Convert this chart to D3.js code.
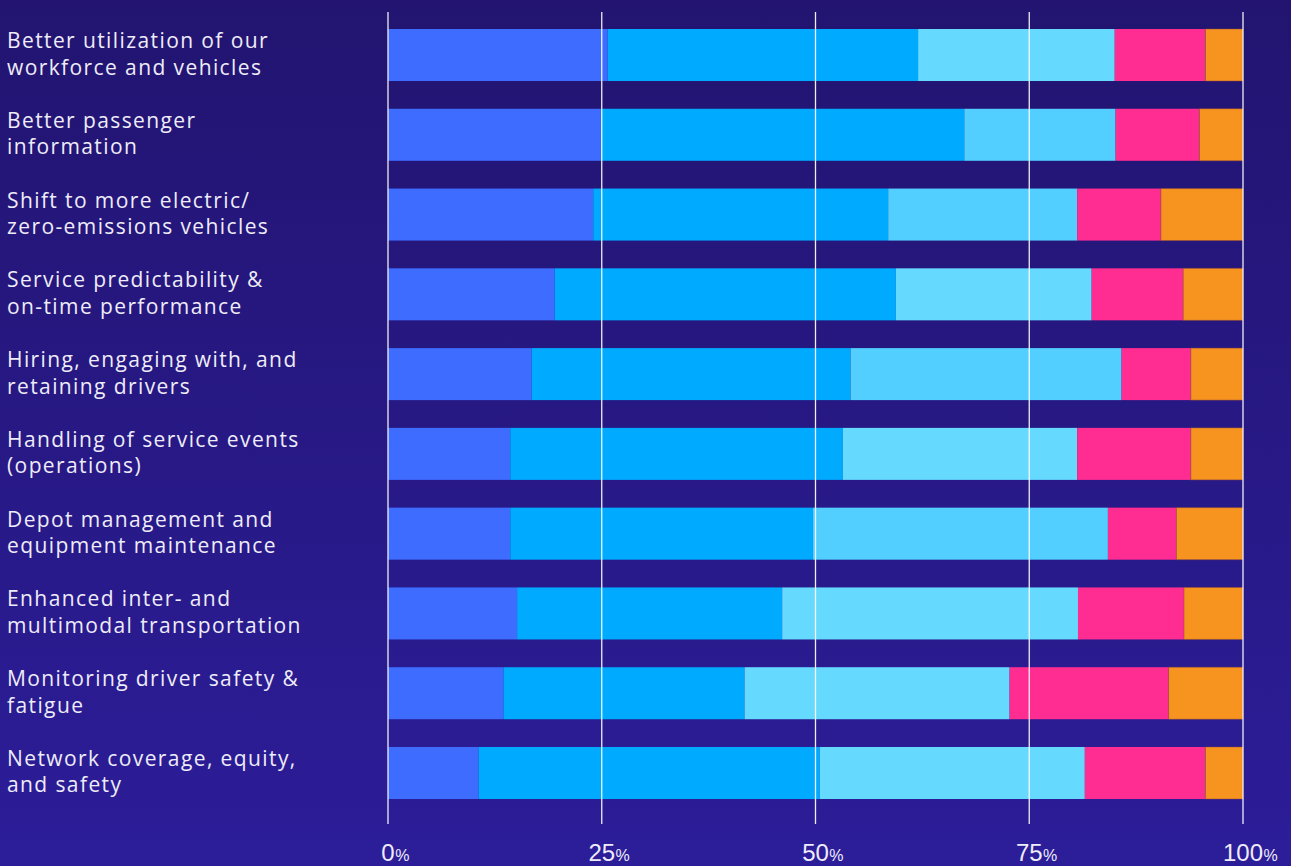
<html>
<script src='https://d3js.org/d3.v7.min.js'></script>
<style>
body { margin: 0; background: #221470; }
svg { display: block; }
.cat { font-family: 'Open Sans', sans-serif; font-size: 21px; font-weight: 400; letter-spacing: 1.4px; fill: #eeecf8; }
.tick-num { font-family: 'Liberation Sans', Arial, sans-serif; font-size: 24px; fill: #eeecf8; }
.tick-pct { font-family: 'Liberation Sans', Arial, sans-serif; font-size: 16px; fill: #eeecf8; }
</style>
<body onload='init()'>
<svg width=1291 height=866></svg>
<script>
// row labels (two lines each)
var categories = [
  ["Better utilization of our", "workforce and vehicles"],
  ["Better passenger", "information"],
  ["Shift to more electric/", "zero-emissions vehicles"],
  ["Service predictability &", "on-time performance"],
  ["Hiring, engaging with, and", "retaining drivers"],
  ["Handling of service events", "(operations)"],
  ["Depot management and", "equipment maintenance"],
  ["Enhanced inter- and", "multimodal transportation"],
  ["Monitoring driver safety &", "fatigue"],
  ["Network coverage, equity,", "and safety"]
]
// share of answers (%), left to right
var s1 = [25.7, 24.9, 24.0, 19.5, 16.8, 14.3, 14.3, 15.1, 13.5, 10.6]
var s2 = [36.3, 42.5, 34.5, 39.9, 37.3, 38.9, 35.4, 31.0, 28.2, 39.9]
var s3 = [23.0, 17.7, 22.1, 22.9, 31.7, 27.4, 34.5, 34.6, 31.0, 31.0]
var s4 = [10.6, 9.8, 9.8, 10.7, 8.1, 13.3, 8.0, 12.4, 18.6, 14.1]
var s5 = [4.4, 5.1, 9.6, 7.0, 6.1, 6.1, 7.8, 6.9, 8.7, 4.4]
var tickValues = [0, 25, 50, 75, 100]

function init() {
  var keys = ["s1", "s2", "s3", "s4", "s5"]
  var series = {s1: s1, s2: s2, s3: s3, s4: s4, s5: s5}
  var rows = categories.map(function(c, i) {
    var r = {name: c.join(" "), idx: i}
    keys.forEach(function(k) { r[k] = series[k][i] })
    return r
  })
  var colors = {s1: "#3d6cff", s2: "#00aaff", s3: "#66d9ff", s4: "#ff2d92", s5: "#f6941f"}
  var altRows = [1, 2, 4, 6]  // these rows use a slightly deeper light-blue

  var svg = d3.select("svg")
  var defs = svg.append("defs")
  var grad = defs.append("linearGradient").attr("id", "bg").attr("x1", 0).attr("y1", 0).attr("x2", 0).attr("y2", 1)
  grad.append("stop").attr("offset", "0%").attr("stop-color", "#221470")
  grad.append("stop").attr("offset", "100%").attr("stop-color", "#2c1d99")
  svg.append("rect").attr("width", 1291).attr("height", 866).attr("fill", "url(#bg)")

  var x = d3.scaleLinear().domain([0, 100]).range([388, 1243])
  var y = d3.scaleBand().domain(rows.map(function(d) { return d.name }))
    .range([29, 799]).paddingInner(0.348).paddingOuter(0)

  var stack = d3.stack().keys(keys)(rows)

  svg.append("g").selectAll("g")
    .data(stack).enter().append("g")
    .each(function(s) {
      d3.select(this).selectAll("rect")
        .data(s).enter().append("rect")
        .attr("x", function(d) { return x(d[0]) })
        .attr("width", function(d) { return x(d[1]) - x(d[0]) })
        .attr("y", function(d) { return y(d.data.name) })
        .attr("height", y.bandwidth())
        .attr("fill", function(d) {
          if (s.key == "s3" && altRows.indexOf(d.data.idx) >= 0) return "#53cfff"
          return colors[s.key]
        })
        .attr("stroke", s.key == "s5" ? "rgba(140,70,60,0.45)" : "none")
        .attr("stroke-width", 1)
    })

  // gridlines on top of bars
  svg.append("g").selectAll("line")
    .data(tickValues).enter().append("line")
    .attr("x1", function(d) { return x(d) }).attr("x2", function(d) { return x(d) })
    .attr("y1", 12).attr("y2", 824)
    .attr("stroke", "#ffffff").attr("stroke-opacity", 0.92).attr("stroke-width", 1.3)

  // tick labels: number centred on the line, small % after it
  var tk = svg.append("g").selectAll("g").data(tickValues).enter().append("g")
  tk.append("text").attr("class", "tick-num")
    .attr("x", function(d) { return x(d) }).attr("y", 861)
    .attr("text-anchor", "middle").text(function(d) { return d })
  tk.each(function(d) {
    var w = d3.select(this).select("text").node().getComputedTextLength()
    d3.select(this).append("text").attr("class", "tick-pct")
      .attr("x", x(d) + w / 2 + 0.5).attr("y", 861).text("%")
  })

  // category labels
  var lab = svg.append("g").selectAll("text").data(rows).enter().append("text")
    .attr("class", "cat")
  lab.each(function(d, i) {
    var cy = y(d.name) + y.bandwidth() / 2
    d3.select(this).selectAll("tspan").data(categories[i]).enter().append("tspan")
      .attr("x", 7)
      .attr("y", function(t, j) { return cy - 7 + j * 26.5 })
      .text(function(t) { return t })
  })
}
</script>
</body>
</html>
